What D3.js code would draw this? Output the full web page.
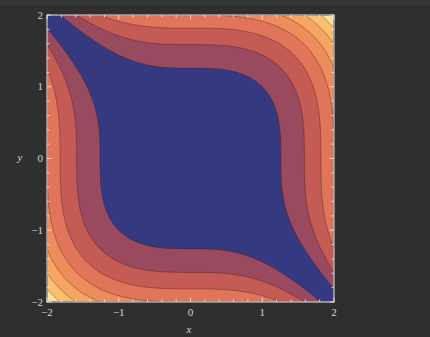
<!DOCTYPE html>
<html>
<head>
<meta charset="utf-8">
<script src="https://cdn.jsdelivr.net/npm/d3@7"></script>
<style>
  body { margin: 0; background: #2f2f2f; }
  svg { display: block; }
</style>
</head>
<body>
<div id="chart"></div>
<script>
// contour levels and the band colours between them
let levels = [0, 2, 4, 6, 8, 10, 12, 14];
let bandColors = ["#353a80", "#9a4a5f", "#c45b55", "#e0755a", "#ee8c5c", "#f6a662", "#f9c070", "#fde29a"];
let majorTicks = [-2, -1, 0, 1, 2];
let tickLabels = ["\u22122", "\u22121", "0", "1", "2"];
let domainX = [-2, 2];
let domainY = [-2, 2];

let w = 430;
let h = 337;
let padL = 47, padR = 334, padT = 15, padB = 302;

let svg = d3.select("#chart")
    .append("svg")
    .attr("width", w)
    .attr("height", h);

svg.append("rect").attr("width", w).attr("height", h).attr("fill", "#2f2f2f");
svg.append("rect").attr("width", w).attr("height", 5).attr("fill", "#363636");

let x = d3.scaleLinear().domain(domainX).range([padL, padR]);
let y = d3.scaleLinear().domain(domainY).range([padB, padT]);

// sample the function on a grid
let n = 300;
let gx = d3.scaleLinear().domain([0, n]).range(domainX);
let gy = d3.scaleLinear().domain([0, n]).range(domainY);
let values = new Array(n * n);
for (let j = 0; j < n; j++) {
    for (let i = 0; i < n; i++) {
        let xv = gx(i + 0.5), yv = gy(j + 0.5);
        values[j * n + i] = Math.abs(xv * xv * xv + yv * yv * yv);
    }
}

let contours = d3.contours().size([n, n]).thresholds(levels)(values);

let proj = d3.geoTransform({
    point: function (px, py) { this.stream.point(x(gx(px)), y(gy(py))); }
});
let path = d3.geoPath(proj);

svg.append("defs").append("clipPath").attr("id", "clip")
    .append("rect")
    .attr("x", padL).attr("y", padT)
    .attr("width", padR - padL).attr("height", padB - padT);

let plot = svg.append("g").attr("clip-path", "url(#clip)");

plot.selectAll("path.band")
    .data(contours)
    .enter().append("path")
    .attr("class", "band")
    .attr("d", path)
    .attr("fill", function (d, i) { return bandColors[i]; });

plot.selectAll("path.line")
    .data(contours.slice(1))
    .enter().append("path")
    .attr("class", "line")
    .attr("d", path)
    .attr("fill", "none")
    .attr("stroke", "#3a1a1a")
    .attr("stroke-opacity", 0.55)
    .attr("stroke-width", 0.7);

// frame
svg.append("rect")
    .attr("x", padL).attr("y", padT)
    .attr("width", padR - padL).attr("height", padB - padT)
    .attr("fill", "none")
    .attr("stroke", "#e8e8e8")
    .attr("stroke-width", 1);

// ticks, all pointing inward
let minorTicks = d3.range(-2, 2.001, 0.2).map(function (v) { return +v.toFixed(1); });
let tickColor = "#eeeeee";
minorTicks.forEach(function (v) {
    let major = majorTicks.indexOf(v) >= 0;
    let len = major ? 4.5 : 2.5;
    svg.append("line").attr("x1", x(v)).attr("x2", x(v)).attr("y1", padB).attr("y2", padB - len)
        .attr("stroke", tickColor).attr("stroke-width", 0.8);
    svg.append("line").attr("x1", x(v)).attr("x2", x(v)).attr("y1", padT).attr("y2", padT + len)
        .attr("stroke", tickColor).attr("stroke-width", 0.8);
    svg.append("line").attr("y1", y(v)).attr("y2", y(v)).attr("x1", padL).attr("x2", padL + len)
        .attr("stroke", tickColor).attr("stroke-width", 0.8);
    svg.append("line").attr("y1", y(v)).attr("y2", y(v)).attr("x1", padR).attr("x2", padR - len)
        .attr("stroke", tickColor).attr("stroke-width", 0.8);
});

let font = "'Liberation Serif', 'DejaVu Serif', serif";
let textColor = "#d6d6d6";

svg.selectAll("text.xt")
    .data(majorTicks)
    .enter().append("text")
    .attr("class", "xt")
    .attr("x", function (d) { return x(d); })
    .attr("y", 315.5)
    .attr("text-anchor", "middle")
    .attr("font-family", font)
    .attr("font-size", 11)
    .attr("fill", textColor)
    .text(function (d, i) { return tickLabels[i]; });

svg.selectAll("text.yt")
    .data(majorTicks)
    .enter().append("text")
    .attr("class", "yt")
    .attr("x", 43)
    .attr("y", function (d) { return y(d) + 3.5; })
    .attr("text-anchor", "end")
    .attr("font-family", font)
    .attr("font-size", 11)
    .attr("fill", textColor)
    .text(function (d, i) { return tickLabels[i]; });

svg.append("text")
    .attr("x", 189).attr("y", 333)
    .attr("text-anchor", "middle")
    .attr("font-family", font)
    .attr("font-style", "italic")
    .attr("font-size", 11)
    .attr("fill", textColor)
    .text("x");

svg.append("text")
    .attr("x", 20).attr("y", 161)
    .attr("text-anchor", "middle")
    .attr("font-family", font)
    .attr("font-style", "italic")
    .attr("font-size", 11)
    .attr("fill", textColor)
    .text("y");
</script>
</body>
</html>
